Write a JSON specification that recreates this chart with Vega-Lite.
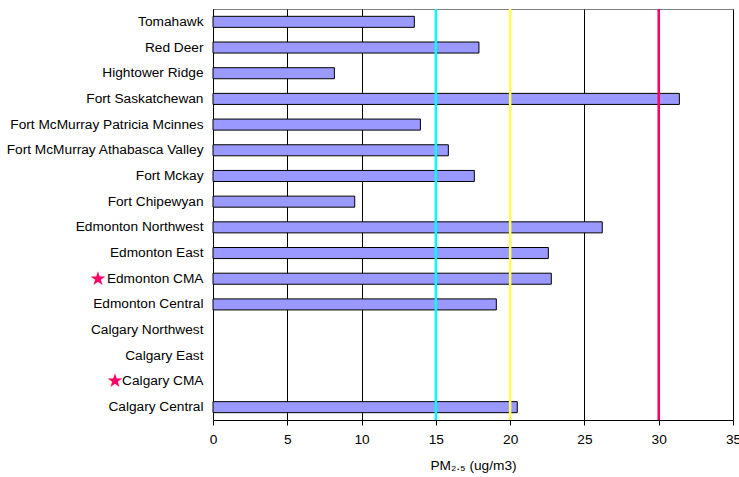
{
  "$schema": "https://vega.github.io/schema/vega-lite/v6.json",
  "autosize": {"type": "none"},
  "width": 520,
  "height": 411,
  "padding": {"left": 213, "top": 9, "right": 6, "bottom": 57},
  "background": "white",
  "config": {
    "font": "Liberation Sans",
    "view": {"stroke": "#808080", "strokeWidth": 1},
    "axis": {"labelFont": "Liberation Sans", "titleFont": "Liberation Sans", "labelColor": "black", "titleColor": "black"}
  },
  "datasets": {
    "stations": [
      {"station": "Tomahawk", "pm25": 13.55},
      {"station": "Red Deer", "pm25": 17.9},
      {"station": "Hightower Ridge", "pm25": 8.17},
      {"station": "Fort Saskatchewan", "pm25": 31.39},
      {"station": "Fort McMurray Patricia Mcinnes", "pm25": 13.96},
      {"station": "Fort McMurray Athabasca Valley", "pm25": 15.84},
      {"station": "Fort Mckay", "pm25": 17.59},
      {"station": "Fort Chipewyan", "pm25": 9.54},
      {"station": "Edmonton Northwest", "pm25": 26.2},
      {"station": "Edmonton East", "pm25": 22.57},
      {"station": "Edmonton CMA", "pm25": 22.77},
      {"station": "Edmonton Central", "pm25": 19.07},
      {"station": "Calgary Northwest", "pm25": null},
      {"station": "Calgary East", "pm25": null},
      {"station": "Calgary CMA", "pm25": null},
      {"station": "Calgary Central", "pm25": 20.48}
    ],
    "limits": [
      {"limit": 15},
      {"limit": 20},
      {"limit": 30}
    ]
  },
  "layer": [
    {
      "data": {"name": "stations"},
      "mark": {"type": "bar", "fill": "#9999FF", "stroke": "#000000", "strokeWidth": 1},
      "encoding": {
        "y": {
          "field": "station",
          "type": "nominal",
          "sort": null,
          "scale": {
            "domain": ["Tomahawk", "Red Deer", "Hightower Ridge", "Fort Saskatchewan", "Fort McMurray Patricia Mcinnes", "Fort McMurray Athabasca Valley", "Fort Mckay", "Fort Chipewyan", "Edmonton Northwest", "Edmonton East", "Edmonton CMA", "Edmonton Central", "Calgary Northwest", "Calgary East", "Calgary CMA", "Calgary Central"],
            "paddingInner": 0.57,
            "paddingOuter": 0.285
          },
          "axis": {"title": null, "ticks": false, "labelPadding": 10, "labelFontSize": 13.7, "domainColor": "#000000", "domainWidth": 1, "grid": false, "labelLimit": 300}
        },
        "x": {
          "field": "pm25",
          "type": "quantitative",
          "scale": {"domain": [0, 35], "nice": false, "zero": true},
          "axis": {
            "title": "PM₂.₅ (ug/m3)",
            "titleFontSize": 13.7,
            "titleFontWeight": "normal",
            "titlePadding": 13,
            "values": [0, 5, 10, 15, 20, 25, 30, 35],
            "labelFontSize": 13.7,
            "labelPadding": 7,
            "tickSize": 5,
            "tickColor": "#000000",
            "domainColor": "#000000",
            "grid": true,
            "gridColor": "#000000",
            "gridWidth": 1,
            "gridOpacity": 1,
            "labelFlush": false
          }
        }
      }
    },
    {
      "data": {"name": "limits"},
      "mark": {"type": "rule", "strokeWidth": 2.5},
      "encoding": {
        "x": {"field": "limit", "type": "quantitative"},
        "color": {
          "field": "limit",
          "type": "nominal",
          "scale": {"domain": [15, 20, 30], "range": ["#00FFFF", "#FFFF55", "#FF0066"]},
          "legend": null
        }
      }
    },
    {
      "data": {"values": [{"station": "Edmonton CMA", "symbol": "★"}]},
      "mark": {"type": "text", "color": "#FF0066", "fontSize": 19, "align": "center", "baseline": "middle", "dx": -115, "font": "DejaVu Sans"},
      "encoding": {
        "y": {"field": "station", "type": "nominal"},
        "x": {"datum": 0},
        "text": {"field": "symbol"}
      }
    },
    {
      "data": {"values": [{"station": "Calgary CMA", "symbol": "★"}]},
      "mark": {"type": "text", "color": "#FF0066", "fontSize": 19, "align": "center", "baseline": "middle", "dx": -98, "font": "DejaVu Sans"},
      "encoding": {
        "y": {"field": "station", "type": "nominal"},
        "x": {"datum": 0},
        "text": {"field": "symbol"}
      }
    }
  ]
}
